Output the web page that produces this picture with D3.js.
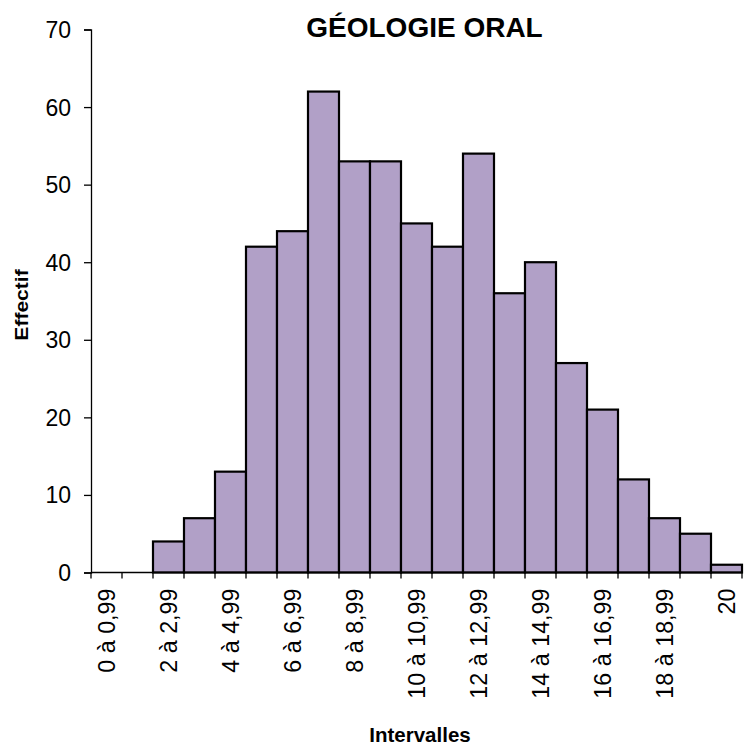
<!DOCTYPE html>
<html><head><meta charset="utf-8">
<script src="https://cdn.jsdelivr.net/npm/d3@7"></script>
<style>body{margin:0;background:#fff;} text{font-family:Arial,"Liberation Sans",sans-serif;}</style>
</head><body><svg id="c" width="744" height="747"></svg>
<script>
const categories = ["0 à 0,99","1 à 1,99","2 à 2,99","3 à 3,99","4 à 4,99","5 à 5,99","6 à 6,99","7 à 7,99","8 à 8,99","9 à 9,99","10 à 10,99","11 à 11,99","12 à 12,99","13 à 13,99","14 à 14,99","15 à 15,99","16 à 16,99","17 à 17,99","18 à 18,99","19 à 19,99","20"];
const values = [0,0,4,7,13,42,44,62,53,53,45,42,54,36,40,27,21,12,7,5,1];
const yTicks = [0,10,20,30,40,50,60,70];
const shownLabels = categories.filter((d,i)=>i%2===0);

const svg = d3.select("#c");
const x = d3.scaleBand().domain(categories).range([91,742]).padding(0);
const y = d3.scaleLinear().domain([0,70]).range([572.5,29.5]);

svg.append("g").selectAll("rect").data(values).join("rect")
  .attr("x",(d,i)=>x(categories[i]))
  .attr("y",d=>y(d))
  .attr("width",x.bandwidth())
  .attr("height",d=>y(0)-y(d))
  .attr("fill","#b1a0c7").attr("stroke","#000").attr("stroke-width",2.2)
  .style("display",d=>d>0?null:"none");

// Y axis
const ya = svg.append("g").attr("transform","translate(91,0)")
  .call(d3.axisLeft(y).tickValues(yTicks).tickSize(7).tickPadding(13));
ya.select(".domain").attr("stroke","#000").attr("stroke-width",1.3);
ya.selectAll(".tick line").attr("stroke","#000").attr("stroke-width",1.3);
ya.selectAll("text").attr("font-size",23).attr("fill","#000").attr("dy","0.35em").style("font-family","Arial, 'Liberation Sans', sans-serif");

// X axis with tick marks at band boundaries
const xa = svg.append("g").attr("transform",`translate(0,${y(0)})`);
xa.append("line").attr("x1",91).attr("x2",742).attr("stroke","#000").attr("stroke-width",1.3);
const bounds = categories.map(c=>x(c)).concat([x(categories[categories.length-1])+x.bandwidth()]);
xa.selectAll("line.t").data(bounds).join("line").attr("class","t")
  .attr("x1",d=>d).attr("x2",d=>d).attr("y1",0).attr("y2",6).attr("stroke","#000").attr("stroke-width",1.3);
xa.selectAll("text").data(shownLabels).join("text")
  .attr("transform",d=>`translate(${x(d)+x.bandwidth()/2+8.5},16) rotate(-90)`)
  .attr("text-anchor","end").attr("font-size",23.3).attr("fill","#000").text(d=>d);

svg.append("text").attr("x",424.5).attr("y",37).attr("text-anchor","middle")
  .attr("font-size",28).attr("font-weight","bold").text("GÉOLOGIE ORAL");
svg.append("text").attr("transform","translate(28,305) rotate(-90) scale(1.17,1)").attr("text-anchor","middle")
  .attr("font-size",18).attr("font-weight","bold").text("Effectif");
svg.append("text").attr("x",420).attr("y",742).attr("text-anchor","middle")
  .attr("font-size",20.5).attr("font-weight","bold").text("Intervalles");
</script></body></html>
